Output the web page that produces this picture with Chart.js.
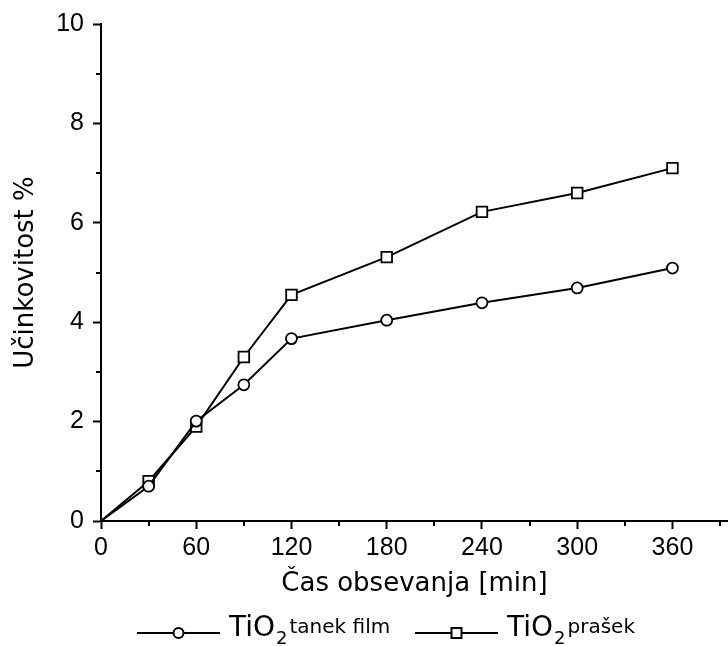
<!DOCTYPE html>
<html>
<head>
<meta charset="utf-8">
<script src="https://cdn.jsdelivr.net/npm/chart.js@4.4.0/dist/chart.umd.min.js"></script>
<style>
    html, body { margin: 0; padding: 0; background: #fff; }
    #wrap { width: 728px; height: 646px; }
</style>
</head>
<body>
<div id="wrap"><canvas id="myChart" width="728" height="646"></canvas></div>
<script>
// Podatki odčitani z grafa
const casMin = [0, 30, 60, 90, 120, 180, 240, 300, 360];
const tanekFilm = [0, 0.70, 2.01, 2.74, 3.67, 4.04, 4.39, 4.69, 5.09];
const prasek = [0, 0.80, 1.90, 3.30, 4.55, 5.31, 6.22, 6.60, 7.10];
const xMinorTicks = [30, 90, 150, 210, 270, 330, 390];
const yMinorTicks = [1, 3, 5, 7, 9];
const legendLabels = ['tanek film', 'prašek'];

const toPoints = (xs, ys) => xs.map((x, i) => ({ x: x, y: ys[i] }));
// marker v izhodišču je skrit za osema
const markerSize = r => c => (c.raw && c.raw.x === 0 ? 0 : r);

// Kratke pomožne oznake na oseh
const minorTicksPlugin = {
    id: 'minorTicks',
    afterDraw(chart) {
        const ctx = chart.ctx;
        const xs = chart.scales.x;
        const ys = chart.scales.y;
        ctx.save();
        ctx.strokeStyle = '#000';
        ctx.lineWidth = 2;
        ctx.beginPath();
        xMinorTicks.forEach(v => {
            const px = Math.round(xs.getPixelForValue(v));
            if (px > xs.right + 1) return;
            ctx.moveTo(px, xs.top);
            ctx.lineTo(px, xs.top + 5);
        });
        yMinorTicks.forEach(v => {
            const py = Math.round(ys.getPixelForValue(v));
            ctx.moveTo(ys.right, py);
            ctx.lineTo(ys.right - 5, py);
        });
        ctx.stroke();
        ctx.restore();
    }
};

// Legenda s podpisanim indeksom (TiO2)
const legendPlugin = {
    id: 'tioLegend',
    afterDraw(chart) {
        const ctx = chart.ctx;
        const baseY = 636;
        const lineY = 633;
        const items = [
            { x0: 137, x1: 220, style: 'circle', textX: 229 },
            { x0: 415, x1: 498, style: 'rect', textX: 507 }
        ];
        ctx.save();
        items.forEach((it, i) => {
            ctx.strokeStyle = '#000';
            ctx.lineWidth = 2;
            ctx.beginPath();
            ctx.moveTo(it.x0, lineY);
            ctx.lineTo(it.x1, lineY);
            ctx.stroke();
            const cx = (it.x0 + it.x1) / 2;
            ctx.fillStyle = '#fff';
            ctx.beginPath();
            if (it.style === 'circle') {
                ctx.arc(cx, lineY, 5, 0, Math.PI * 2);
            } else {
                ctx.rect(cx - 5, lineY - 5, 10, 10);
            }
            ctx.fill();
            ctx.stroke();

            ctx.fillStyle = '#000';
            ctx.textBaseline = 'alphabetic';
            ctx.textAlign = 'left';
            ctx.font = '28px "DejaVu Sans"';
            ctx.fillText('TiO', it.textX, baseY);
            let x = it.textX + ctx.measureText('TiO').width + 1;
            ctx.font = '18px "DejaVu Sans"';
            ctx.fillText('2', x, baseY + 8);
            x += ctx.measureText('2').width + 2;
            ctx.font = '20px "DejaVu Sans"';
            ctx.fillText(legendLabels[i], x, baseY - 3);
        });
        ctx.restore();
    }
};

const ctx = document.getElementById('myChart').getContext('2d');
new Chart(ctx, {
    type: 'line',
    data: {
        datasets: [{
            label: 'TiO2 tanek film',
            data: toPoints(casMin, tanekFilm),
            borderColor: '#000',
            borderWidth: 2,
            pointStyle: 'circle',
            pointRadius: markerSize(5.5),
            pointBackgroundColor: '#fff',
            pointBorderColor: '#000',
            pointBorderWidth: 1.8,
            fill: false,
            tension: 0,
            clip: false
        }, {
            label: 'TiO2 prašek',
            data: toPoints(casMin, prasek),
            borderColor: '#000',
            borderWidth: 2,
            pointStyle: 'rect',
            pointRadius: markerSize(7.5),
            pointBackgroundColor: '#fff',
            pointBorderColor: '#000',
            pointBorderWidth: 1.8,
            fill: false,
            tension: 0,
            clip: false
        }]
    },
    options: {
        responsive: false,
        animation: false,
        layout: { autoPadding: false, padding: { left: 0, right: 0, top: 24, bottom: 40 } },
        plugins: {
            legend: { display: false },
            tooltip: { enabled: false }
        },
        scales: {
            x: {
                type: 'linear',
                min: 0,
                max: 395,
                border: { color: '#000', width: 2 },
                grid: { drawOnChartArea: false, color: '#000', tickLength: 8, tickWidth: 2 },
                ticks: {
                    stepSize: 60,
                    includeBounds: false,
                    color: '#000',
                    padding: 4,
                    maxRotation: 0,
                    font: { family: '"Liberation Sans", Arial', size: 25 }
                },
                title: {
                    display: true,
                    text: 'Čas obsevanja [min]',
                    color: '#000',
                    font: { family: '"DejaVu Sans"', size: 26 },
                    padding: { top: 4, bottom: 6 }
                },
                afterFit(scale) { scale.height = 85; }
            },
            y: {
                min: 0,
                max: 10,
                border: { color: '#000', width: 2 },
                grid: { drawOnChartArea: false, color: '#000', tickLength: 8, tickWidth: 2 },
                ticks: {
                    stepSize: 2,
                    color: '#000',
                    padding: 9,
                    font: { family: '"Liberation Sans", Arial', size: 25 }
                },
                title: {
                    display: true,
                    text: 'Učinkovitost %',
                    color: '#000',
                    font: { family: '"DejaVu Sans"', size: 26 },
                    padding: { top: 11, bottom: 0 }
                },
                afterFit(scale) { scale.width = 101; }
            }
        }
    },
    plugins: [minorTicksPlugin, legendPlugin]
});
</script>
</body>
</html>
